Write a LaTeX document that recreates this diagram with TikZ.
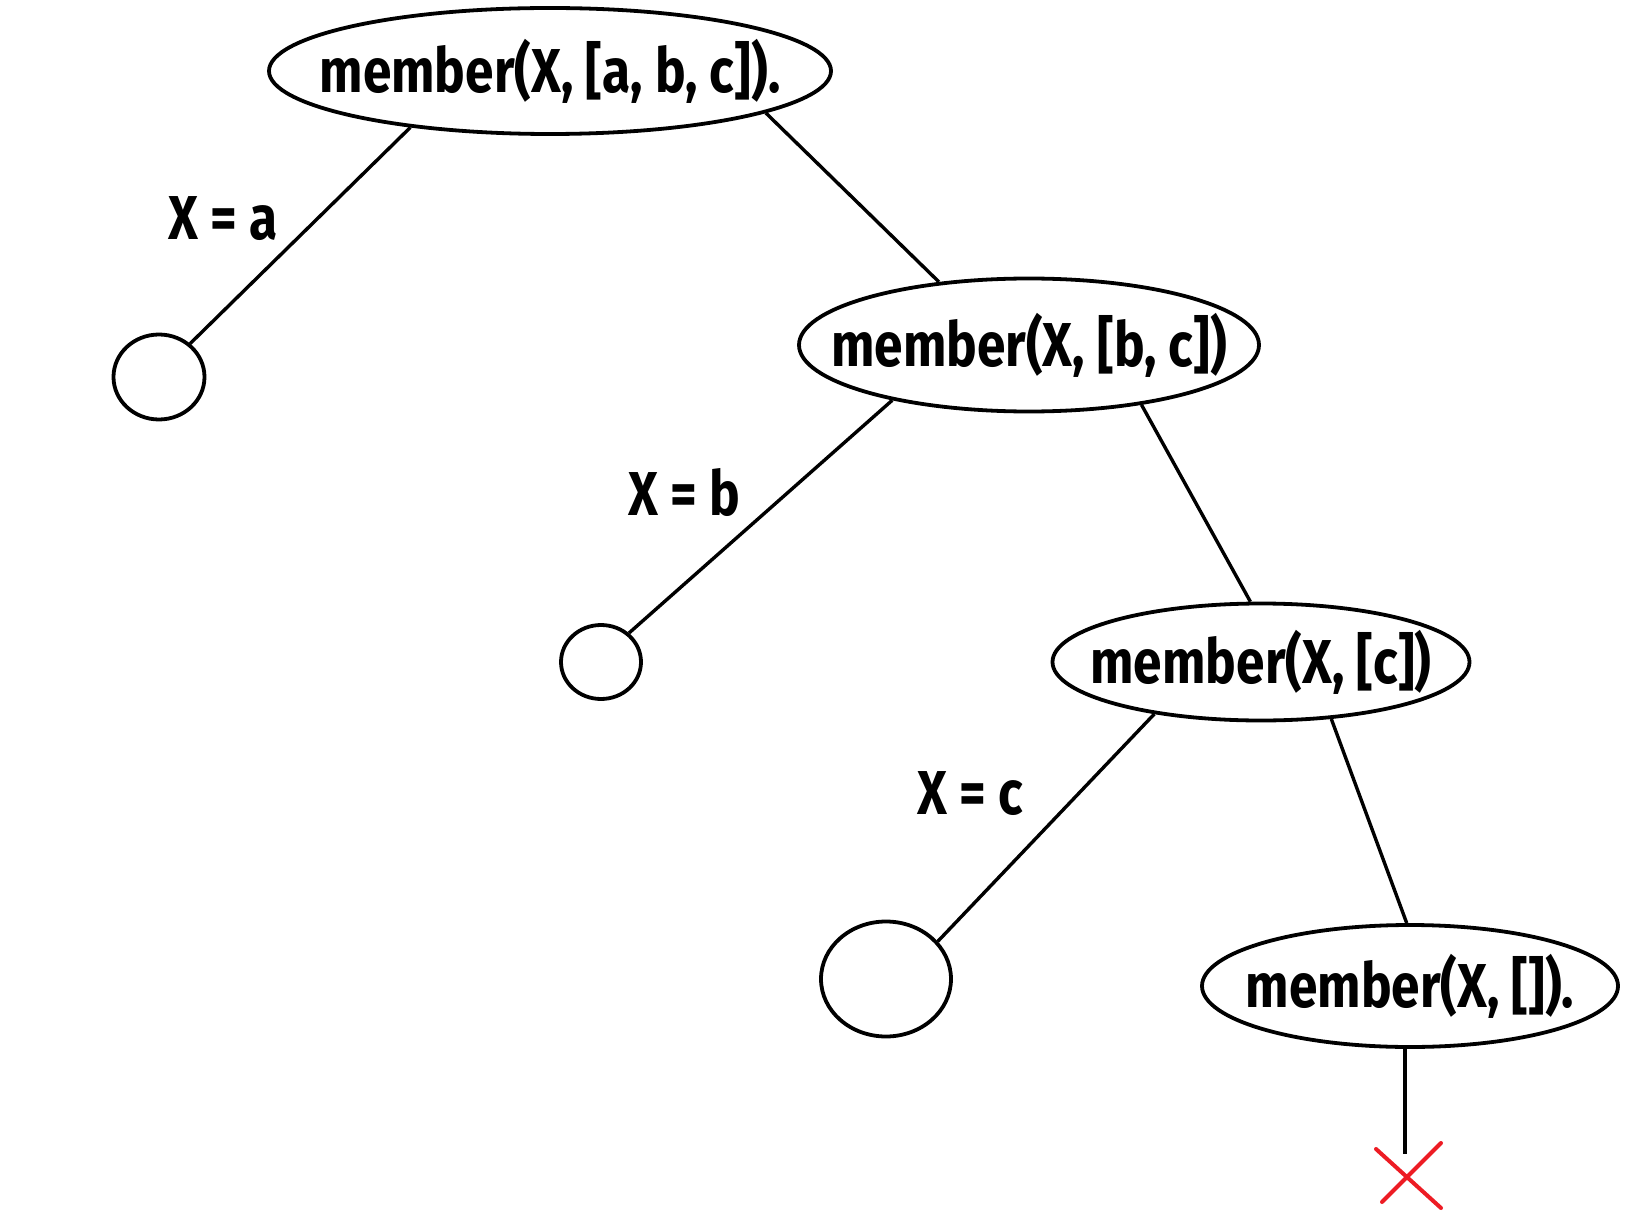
\documentclass[tikz,border=0pt]{standalone}
\usepackage{fontspec}
\setmainfont{Fira Sans}[FakeStretch=0.83]
\usetikzlibrary{shapes.geometric}
\definecolor{failred}{RGB}{237,28,36}
% goal text that does not widen its ellipse
\newcommand\goaltext[1]{\makebox[0pt]{#1}}
\begin{document}
\begin{tikzpicture}[x=1pt,y=-1pt,
  goal/.style={ellipse,draw,line width=3.8pt,inner sep=0pt,
    font=\fontsize{62}{66}\selectfont\bfseries},
  leaf/.style={ellipse,draw,line width=3.8pt,inner sep=0pt},
  edge/.style={line width=3.4pt},
  binding/.style={font=\fontsize{62}{66}\selectfont\bfseries}]
\useasboundingbox (0,0) rectangle (1649,1222);
% goals of the search tree
\node[goal,minimum width=562pt,minimum height=126pt] (g1) at (550,71) {\goaltext{member(X, [a, b, c]).}};
\node[goal,minimum width=460pt,minimum height=133pt] (g2) at (1029,345) {\goaltext{member(X, [b, c])}};
\node[goal,minimum width=417pt,minimum height=117pt] (g3) at (1261,662) {\goaltext{member(X, [c])}};
\node[goal,minimum width=416pt,minimum height=122pt] (g4) at (1410,986) {\goaltext{member(X, []).}};
% success leaves
\node[leaf,minimum width=91pt,minimum height=85pt] (s1) at (159,377) {};
\node[leaf,minimum width=80pt,minimum height=74pt] (s2) at (601,662) {};
\node[leaf,minimum width=130pt,minimum height=115pt] (s3) at (886,979) {};
% bindings
\node[binding] (b1) at (223,219) {X = a};
\node[binding] (b2) at (684,492) {X = b};
\node[binding] (b3) at (970,794) {X = c};
% branches
\draw[edge] (g1.202) -- (s1.47);
\draw[edge] (g1.349) -- (g2.145);
\draw[edge] (g2.202) -- (s2.46);
\draw[edge] (g2.332) -- (g3.100);
\draw[edge] (g3.206) -- (s3.36);
\draw[edge] (g3.321) -- (g4.93);
% failure branch
\coordinate (fail) at (1405,1154);
\coordinate (cross) at (1409,1177);
\draw[edge] (fail |- g4.south) -- (fail);
\draw[failred,line width=4pt,line cap=round]
  (cross) ++(-33,-28) -- ++(65,59)
  (cross) ++(-27,25) -- ++(59,-59);
\end{tikzpicture}
\end{document}
